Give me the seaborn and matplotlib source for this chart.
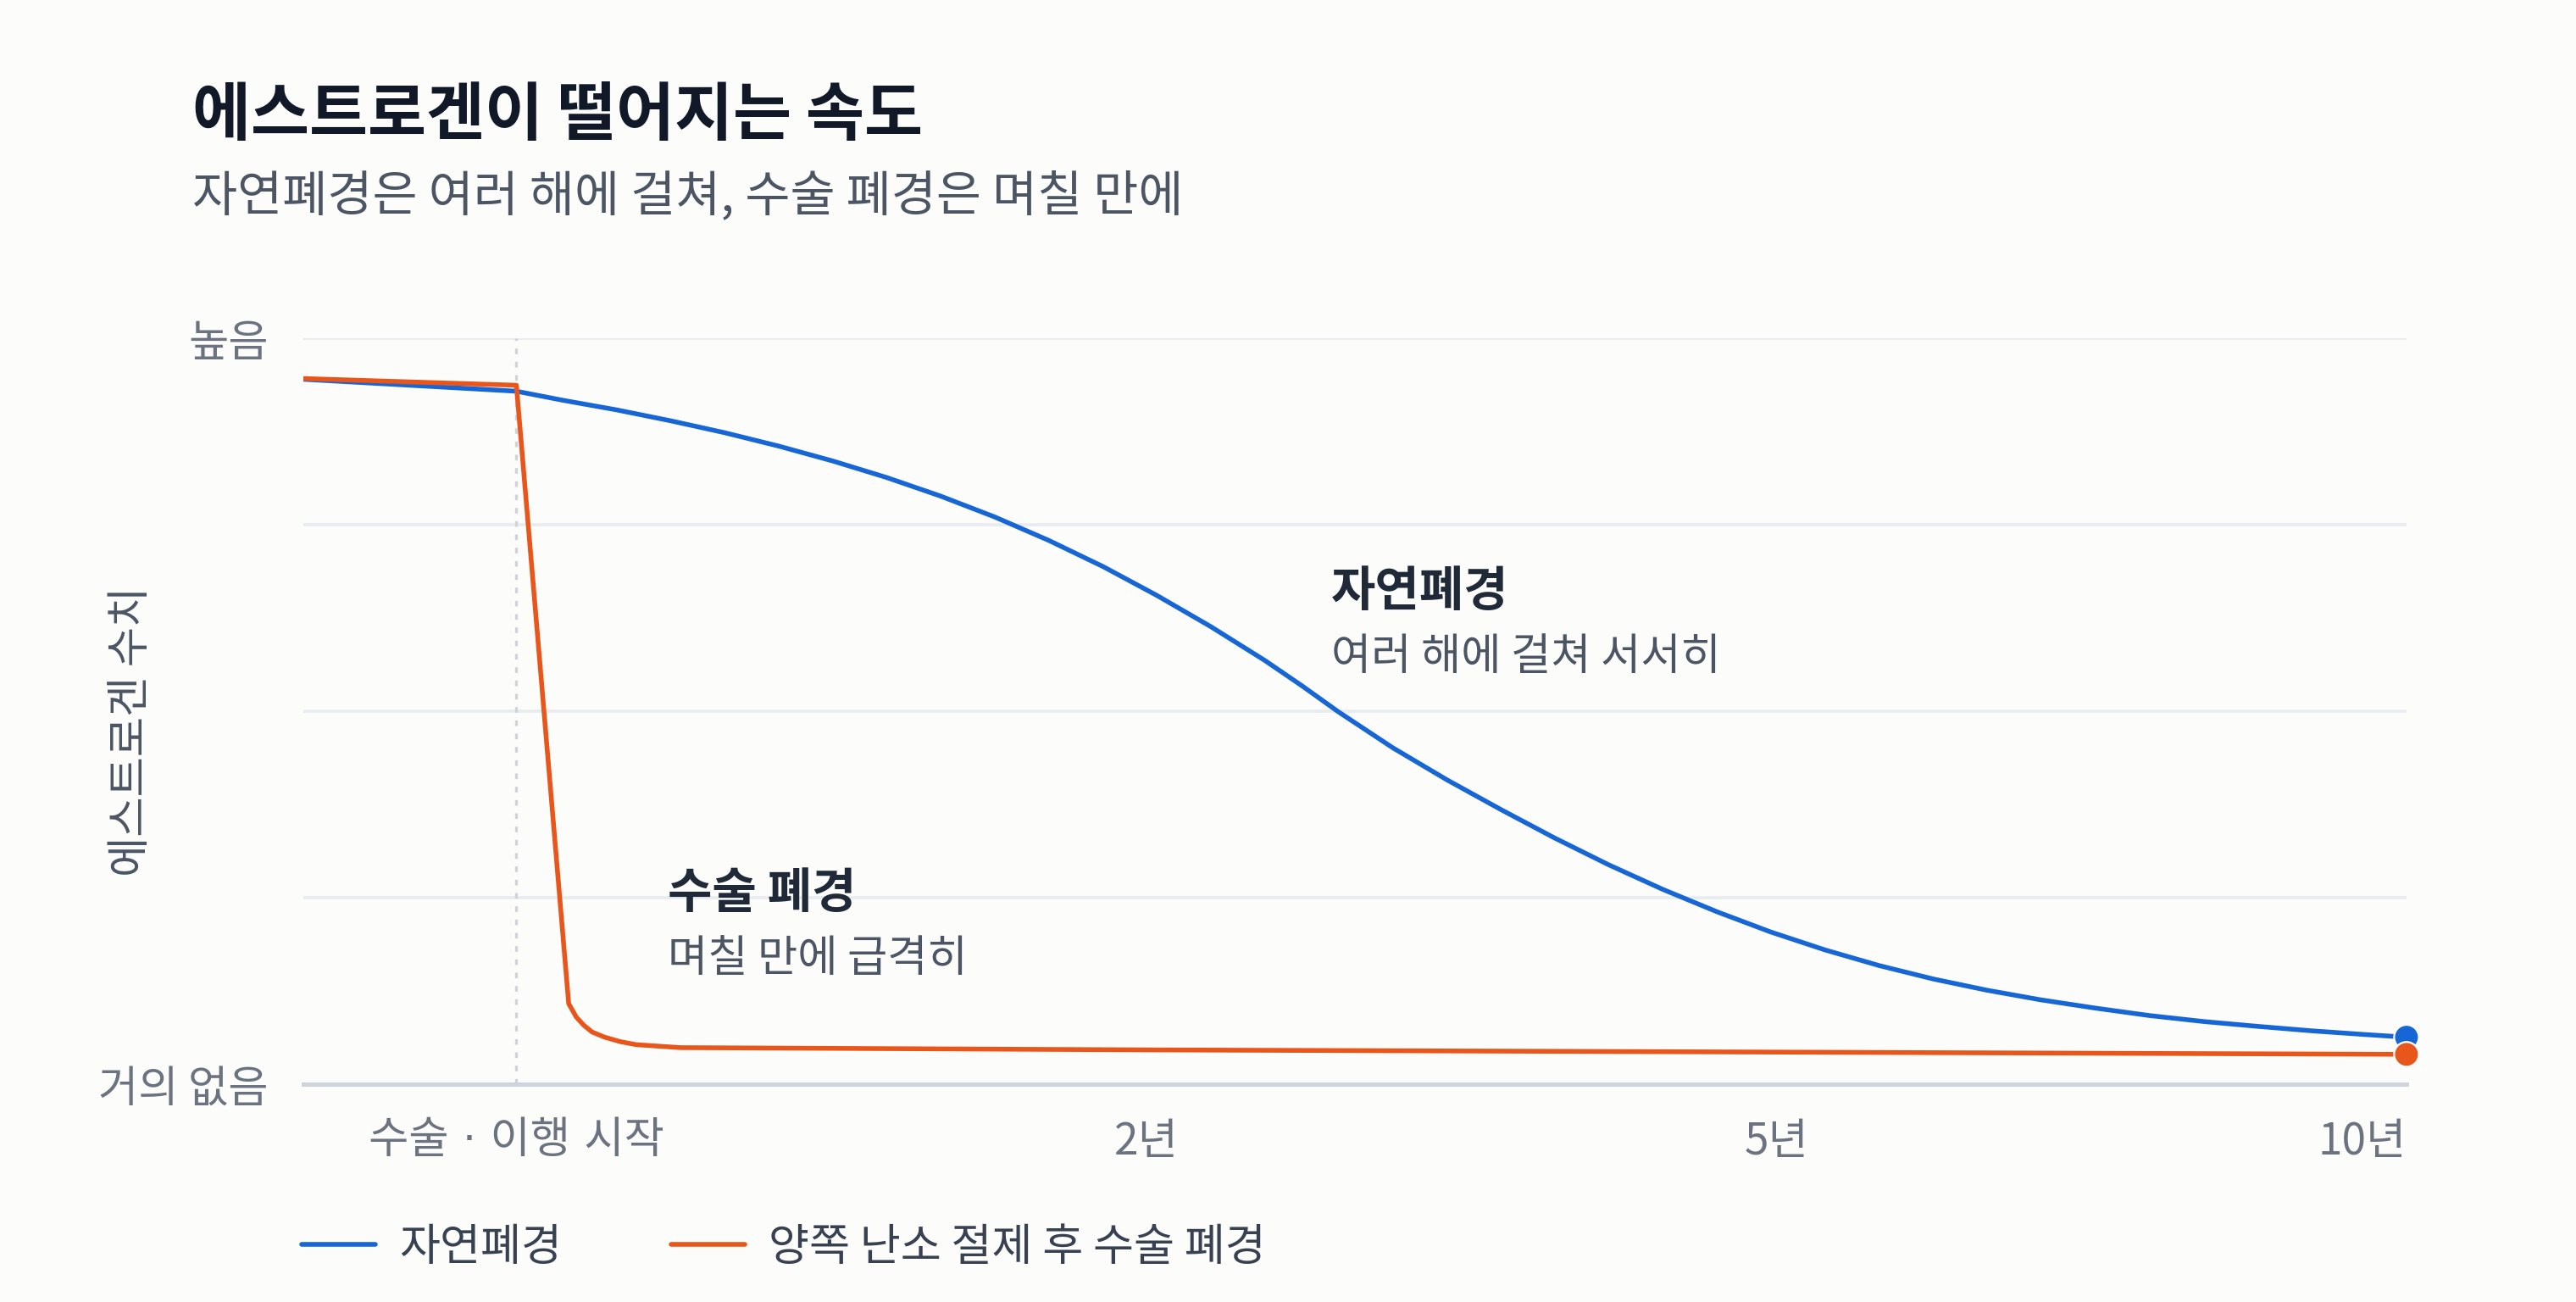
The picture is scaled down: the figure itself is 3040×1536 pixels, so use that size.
import pandas as pd
import matplotlib.pyplot as plt
import seaborn as sns

# x positions: 0 = surgery / transition start, 1 = 2 years, 2 = 5 years, 3 = 10 years
natural_x = [-0.338, 0.0, 0.073, 0.159, 0.244, 0.330, 0.416, 0.502, 0.587, 0.673, 0.759,
             0.845, 0.931, 1.016, 1.102, 1.188, 1.247, 1.305, 1.391, 1.477, 1.563, 1.648,
             1.734, 1.820, 1.906, 1.991, 2.077, 2.163, 2.249, 2.334, 2.420, 2.506, 2.592,
             2.678, 2.764, 2.850, 2.935, 3.0]
natural_y = [94.5, 92.9, 91.7, 90.4, 88.95, 87.35, 85.55, 83.55, 81.35, 78.85, 76.05,
             72.9, 69.4, 65.55, 61.35, 56.8, 53.4, 49.9, 45.1, 40.8, 36.8, 33.0,
             29.4, 26.1, 23.1, 20.4, 18.0, 15.9, 14.1, 12.6, 11.3, 10.2, 9.2,
             8.4, 7.75, 7.15, 6.65, 6.3]

surgical_x = [-0.338, 0.0, 0.083, 0.095, 0.107, 0.12, 0.14, 0.165, 0.19, 0.26, 1.0, 2.0, 3.0]
surgical_y = [94.6, 93.7, 10.8, 9.0, 7.9, 7.0, 6.3, 5.7, 5.3, 4.9, 4.6, 4.3, 4.0]

series_names = ["자연폐경", "양쪽 난소 절제 후 수술 폐경"]
x_ticks = [0, 1, 2, 3]
x_labels = ["수술 · 이행 시작", "2년", "5년", "10년"]
y_ticks = [0, 25, 50, 75, 100]
y_labels = ["거의 없음", "", "", "", "높음"]

BLUE = "#1766d6"
ORANGE = "#e8561c"
BG = "#fcfcfa"

df = pd.concat([
    pd.DataFrame({"x": natural_x, "y": natural_y, "series": series_names[0]}),
    pd.DataFrame({"x": surgical_x, "y": surgical_y, "series": series_names[1]}),
])
ends = df.groupby("series", sort=False).tail(1)

sns.set_theme(style="white")
plt.rcParams["font.family"] = ["Noto Sans CJK KR", "DejaVu Sans"]

fig = plt.figure(figsize=(15.2, 7.68), dpi=200, facecolor=BG)
ax = fig.add_axes([0.1178, 0.1673, 0.9342 - 0.1178, 0.7402 - 0.1673])
ax.set_facecolor(BG)

palette = {series_names[0]: BLUE, series_names[1]: ORANGE}
sns.lineplot(data=df, x="x", y="y", hue="series", palette=palette, sort=False,
             linewidth=2.0, ax=ax, zorder=3)
sns.scatterplot(data=ends, x="x", y="y", hue="series", palette=palette, s=110,
                edgecolor="white", linewidth=0.8, legend=False, ax=ax, zorder=5)
for coll in ax.collections:
    coll.set_clip_on(False)

ax.set_xlim(-0.338, 3.0)
ax.set_ylim(0, 100)
ax.set_xticks(x_ticks)
ax.set_xticklabels(x_labels)
ax.get_xticklabels()[0].set_family(["DejaVu Sans", "Noto Sans CJK KR"])
ax.get_xticklabels()[-1].set_ha("right")
ax.set_yticks(y_ticks)
ax.set_yticklabels(y_labels)
ax.tick_params(axis="x", length=0, pad=15, labelsize=18.5, labelcolor="#6b7280")
ax.tick_params(axis="y", length=0, pad=15, labelsize=18.5, labelcolor="#6b7280")
ax.set_xlabel("")
ax.set_ylabel("")

ax.yaxis.grid(True, color="#e8ebef", linewidth=1.3)
ax.set_axisbelow(True)
for side in ["top", "right", "left"]:
    ax.spines[side].set_visible(False)
ax.spines["bottom"].set_color("#cfd4dc")
ax.spines["bottom"].set_linewidth(1.8)

ax.axvline(0, color="#d0d4da", linewidth=1.2, linestyle=(0, (2, 2.7)), zorder=1)

# annotations
ax.text(1.293, 66.0, "자연폐경", fontsize=20.5, fontweight="bold", color="#1f2937", va="center")
ax.text(1.293, 57.2, "여러 해에 걸쳐 서서히", fontsize=18.5, color="#4b5563", va="center")
ax.text(0.240, 25.6, "수술 폐경", fontsize=20.5, fontweight="bold", color="#1f2937", va="center")
ax.text(0.240, 16.8, "며칠 만에 급격히", fontsize=18.5, color="#4b5563", va="center")

fig.text(0.0747, 0.911, "에스트로겐이 떨어지는 속도", fontsize=27, fontweight="bold",
         color="#111827", va="center")
fig.text(0.0747, 0.849, "자연폐경은 여러 해에 걸쳐, 수술 폐경은 며칠 만에", fontsize=20.8,
         color="#4b5563", va="center")
fig.text(0.051, 0.438, "에스트로겐 수치", rotation=90, fontsize=18.5, color="#4b5563",
         va="center", ha="center")

handles, labels = ax.get_legend_handles_labels()
ax.get_legend().remove()
fig.legend(handles, labels, loc="center left", bbox_to_anchor=(0.117, 0.0417),
           frameon=False, ncol=2, fontsize=18.8, labelcolor="#374151",
           handlelength=1.67, handletextpad=0.55, columnspacing=2.45,
           borderpad=0, borderaxespad=0)

fig.savefig("out.png", dpi=200, facecolor=BG)
plt.close(fig)
